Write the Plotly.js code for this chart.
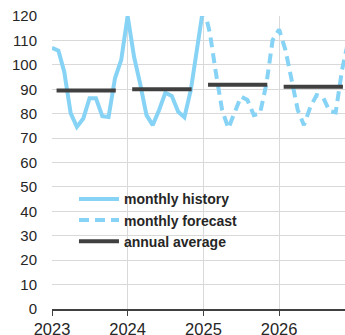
<!DOCTYPE html>
<html><head><meta charset="utf-8">
<script src="https://cdn.plot.ly/plotly-3.0.1.min.js"></script>
<style>html,body{margin:0;padding:0;background:#fff;}#c{width:345px;height:335px;}</style>
</head><body><div id="c"></div>
<script>
const histDates = ['2023-01-01','2023-02-01','2023-03-01','2023-04-01','2023-05-01','2023-06-01','2023-07-01','2023-08-01','2023-09-01','2023-10-01','2023-11-01','2023-12-01',
  '2024-01-01','2024-02-01','2024-03-01','2024-04-01','2024-05-01','2024-06-01','2024-07-01','2024-08-01','2024-09-01','2024-10-01','2024-11-01','2024-12-01','2025-01-01'];
const histValues = [107,105.8,97.2,80.2,74.6,78,86.3,86.3,79,78.6,94.5,102,
  120,103.3,92.4,79.4,75.3,81.5,88.6,87.3,80.8,78.5,89.7,106.8,124];
const fcstDates = ['2025-01-01','2025-02-01','2025-03-01','2025-04-01','2025-05-01','2025-06-01','2025-07-01','2025-08-01','2025-09-01','2025-10-01','2025-11-01','2025-12-01',
  '2026-01-01','2026-02-01','2026-03-01','2026-04-01','2026-05-01','2026-06-01','2026-07-01','2026-08-01','2026-09-01','2026-10-01','2026-11-01','2026-12-01'];
const fcstValues = [124,113,97.2,81.5,74,80.8,87,85.6,79.4,80.1,92.4,110.2,
  114.5,106,93.8,81.5,75.3,82.8,87.6,86.8,81,80.5,98,110];
const avgYears = ['2023','2024','2025','2026'];
const avgValues = [89.5,90,91.8,91];
const avgStart = '-01-23';
const avgEnd = '-11-05';

const blue = '#87d3f5';
const avgX = [], avgY = [];
avgYears.forEach((yr,i)=>{ avgX.push(yr+avgStart, yr+avgEnd, null); avgY.push(avgValues[i], avgValues[i], null); });

const traces = [
  {x: histDates, y: histValues, mode:'lines', name:'monthly history', line:{color:blue, width:4}},
  {x: fcstDates, y: fcstValues, mode:'lines', name:'monthly forecast', line:{color:blue, width:4, dash:'10px,6px'}},
  {x: avgX, y: avgY, mode:'lines', name:'annual average', connectgaps:false, line:{color:'#404040', width:4}}
];
const layout = {
  width:345, height:335,
  margin:{l:52, r:0, t:16, b:26},
  paper_bgcolor:'#fff', plot_bgcolor:'#fff',
  font:{family:'Liberation Sans, Arial, sans-serif', color:'#262626'},
  showlegend:true,
  legend:{x:0.075, y:0.429, xanchor:'left', yanchor:'top', bgcolor:'rgba(0,0,0,0)',
    font:{size:14, color:'#262626', weight:'bold'}, tracegroupgap:0, itemwidth:40},
  xaxis:{type:'date', range:['2023-01-01','2026-11-15'], tickvals:['2023-01-01','2024-01-01','2025-01-01','2026-01-01'],
    ticktext:['2023','2024','2025','2026'], showgrid:true, gridcolor:'#d9d9d9', gridwidth:1,
    showline:true, linecolor:'#404040', linewidth:1.5, ticks:'outside', ticklen:5, tickcolor:'#404040',
    tickfont:{size:16.5}, zeroline:false, fixedrange:true},
  yaxis:{range:[0,120], dtick:10, tick0:0, showgrid:true, gridcolor:'#d9d9d9', gridwidth:1,
    showline:false, ticks:'', ticklabelstandoff:14, tickfont:{size:15}, zeroline:false, fixedrange:true}
};
Plotly.newPlot('c', traces, layout, {displayModeBar:false, staticPlot:true});
</script></body></html>
